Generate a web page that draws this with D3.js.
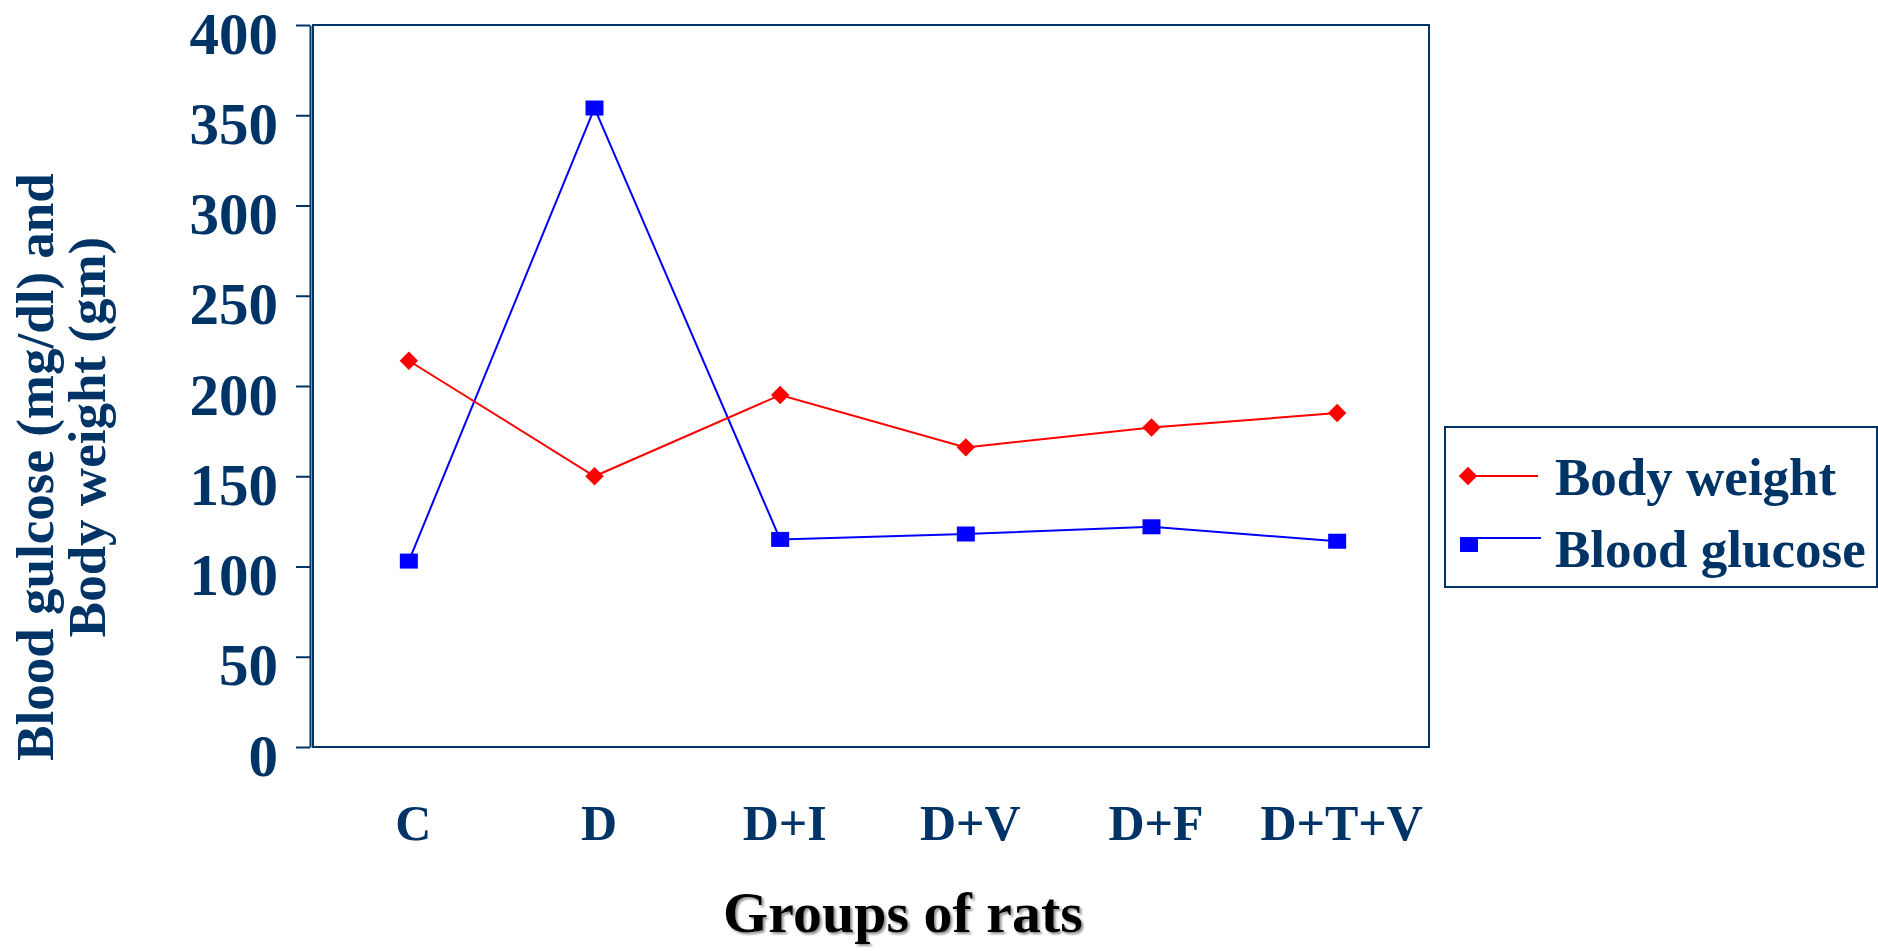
<!DOCTYPE html>
<html lang="en">
<head>
<meta charset="UTF-8">
<title>Blood glucose and body weight</title>
<style>
  body { margin: 0; background: #fff; }
  svg { display: block; font-family: "Liberation Serif", "Times New Roman", serif; font-weight: bold; }
  .axis text { fill: #003366; }
  .axis line, .axis path { stroke: #003366; stroke-width: 2; }
</style>
</head>
<body>
<div id="chart"></div>
<script src="https://d3js.org/d3.v7.min.js"></script>
<script>
// data
var groups = ["C", "D", "D+I", "D+V", "D+F", "D+T+V"];
var bodyWeight = [214, 150, 195, 166, 177, 185];
var bloodGlucose = [103, 354, 115, 118, 122, 114];
var yTicks = [0, 50, 100, 150, 200, 250, 300, 350, 400];
var seriesNames = ["Body weight", "Blood glucose"];

var width = 1878, height = 951;
var navy = "#003366";
var plot = { left: 313, right: 1429, top: 25, bottom: 747 };

var svg = d3.select("#chart").append("svg")
    .attr("width", width)
    .attr("height", height);

var defs = svg.append("defs");
defs.append("filter").attr("id", "shadow")
    .append("feDropShadow")
    .attr("dx", 2).attr("dy", 2)
    .attr("stdDeviation", 1.2)
    .attr("flood-color", "#777")
    .attr("flood-opacity", 0.8);

var xScale = d3.scalePoint()
    .domain(groups)
    .range([plot.left + 3, plot.right + 1])
    .padding(0.5);

var yScale = d3.scaleLinear()
    .domain([0, 400])
    .range([plot.bottom, plot.top]);

// plot frame
svg.append("rect")
    .attr("x", plot.left).attr("y", plot.top)
    .attr("width", plot.right - plot.left)
    .attr("height", plot.bottom - plot.top)
    .attr("fill", "none")
    .attr("stroke", navy)
    .attr("stroke-width", 2);

// y axis (sits just left of the frame -> double line look)
var yAxis = svg.append("g")
    .attr("class", "axis")
    .attr("transform", "translate(" + (plot.left - 3) + ",0)")
    .call(d3.axisLeft(yScale).tickValues(yTicks).tickSize(14).tickSizeOuter(0).tickPadding(18));
yAxis.selectAll("text")
    .attr("dy", "0.475em")
    .style("font-size", "59px")
    .style("font-family", "'Liberation Serif', 'Times New Roman', serif")
    .style("font-weight", "bold");

// x axis labels
var xAxis = svg.append("g")
    .attr("class", "axis")
    .attr("transform", "translate(4," + plot.bottom + ")")
    .call(d3.axisBottom(xScale).tickSize(0).tickPadding(57));
xAxis.select(".domain").remove();
xAxis.selectAll("text")
    .style("font-size", "50px")
    .style("font-family", "'Liberation Serif', 'Times New Roman', serif")
    .style("font-weight", "bold");

// axis titles
svg.append("text")
    .attr("x", 903).attr("y", 932)
    .attr("text-anchor", "middle")
    .attr("font-size", 58)
    .attr("fill", "#000")
    .attr("filter", "url(#shadow)")
    .text("Groups of rats");

svg.append("text")
    .attr("transform", "translate(53,467) rotate(-90)")
    .attr("text-anchor", "middle")
    .attr("font-size", 53)
    .attr("fill", navy)
    .text("Blood gulcose (mg/dl) and");
svg.append("text")
    .attr("transform", "translate(105,437) rotate(-90)")
    .attr("text-anchor", "middle")
    .attr("font-size", 53)
    .attr("fill", navy)
    .text("Body weight (gm)");

// lines
var line = d3.line()
    .x(function(d, i) { return xScale(groups[i]); })
    .y(function(d) { return yScale(d); });

svg.append("path")
    .attr("d", line(bloodGlucose))
    .attr("fill", "none")
    .attr("stroke", "#0000ff")
    .attr("stroke-width", 2);

svg.append("path")
    .attr("d", line(bodyWeight))
    .attr("fill", "none")
    .attr("stroke", "#ff0000")
    .attr("stroke-width", 2);

// markers
var diamond = d3.symbol().type(d3.symbolSquare).size(170);

svg.append("g").selectAll("rect")
    .data(bloodGlucose)
    .enter()
    .append("rect")
    .attr("x", function(d, i) { return xScale(groups[i]) - 9; })
    .attr("y", function(d) { return yScale(d) - 7.5; })
    .attr("width", 18)
    .attr("height", 15)
    .attr("fill", "#0000ff");

svg.append("g").selectAll("path")
    .data(bodyWeight)
    .enter()
    .append("path")
    .attr("d", diamond)
    .attr("transform", function(d, i) {
        return "translate(" + xScale(groups[i]) + "," + yScale(d) + ") rotate(45)";
    })
    .attr("fill", "#ff0000");

// legend
var legend = svg.append("g").attr("transform", "translate(1445,427)");
legend.append("rect")
    .attr("width", 432).attr("height", 160)
    .attr("fill", "#fff")
    .attr("stroke", navy)
    .attr("stroke-width", 2);

// body weight entry
legend.append("line")
    .attr("x1", 23).attr("x2", 93)
    .attr("y1", 49).attr("y2", 49)
    .attr("stroke", "#ff0000").attr("stroke-width", 2);
legend.append("path")
    .attr("d", diamond)
    .attr("transform", "translate(23,49) rotate(45)")
    .attr("fill", "#ff0000");
legend.append("text")
    .attr("x", 110).attr("y", 68)
    .attr("font-size", 53)
    .attr("fill", navy)
    .text(seriesNames[0]);

// blood glucose entry
legend.append("line")
    .attr("x1", 15).attr("x2", 96)
    .attr("y1", 111).attr("y2", 111)
    .attr("stroke", "#0000ff").attr("stroke-width", 2);
legend.append("rect")
    .attr("x", 15).attr("y", 112)
    .attr("width", 18).attr("height", 13)
    .attr("fill", "#0000ff");
legend.append("text")
    .attr("x", 110).attr("y", 140)
    .attr("font-size", 53)
    .attr("fill", navy)
    .text(seriesNames[1]);
</script>
</body>
</html>
